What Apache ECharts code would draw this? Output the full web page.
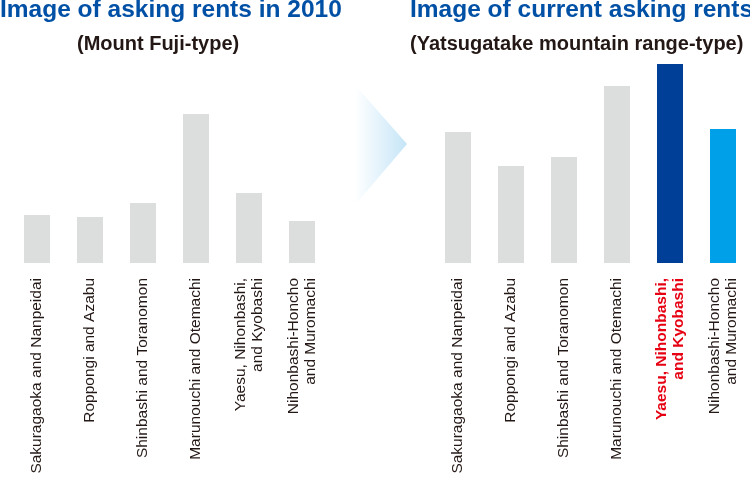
<!DOCTYPE html>
<html lang="en" style="height: 100%">
<head>
    <meta charset="utf-8">
</head>
<body style="height: 100%; margin: 0; background: #fff">
<div id="main" style="width: 750px; height: 485px"></div>

<script type="text/javascript" src="https://fastly.jsdelivr.net/npm/echarts@6/dist/echarts.min.js"></script>

<script type="text/javascript">
    var districts = [
        'Sakuragaoka and Nanpeidai',
        'Roppongi and Azabu',
        'Shinbashi and Toranomon',
        'Marunouchi and Otemachi',
        'Yaesu, Nihonbashi,\nand Kyobashi',
        'Nihonbashi-Honcho\nand Muromachi'
    ];
    // relative rent level (image only, no units)
    var rents2010 = [48, 46, 60, 149, 70, 42];
    var rentsNow = [131, 97, 106, 177, 199, 134];
    var highlightIndex = 4;
    var nowColors = ['#dcdddd', '#dcdddd', '#dcdddd', '#dcdddd', '#003f98', '#00a0e9'];

    var chartDom = document.getElementById('main');
    var myChart = echarts.init(chartDom);
    var option;

    var FONT = 'Liberation Sans, Arial, sans-serif';
    var LABEL_SIZE = 15.5;
    var LABEL_LH = 17;

    function xAxisFor(gridIndex, highlight) {
        return {
            type: 'category',
            gridIndex: gridIndex,
            data: districts,
            axisLine: { show: false },
            axisTick: { show: false },
            axisLabel: {
                interval: 0,
                rotate: 90,
                margin: 15,
                fontFamily: FONT,
                fontSize: LABEL_SIZE,
                lineHeight: LABEL_LH,
                color: '#231815',
                formatter: function (value, index) {
                    if (index !== highlight) return value;
                    return '{hl|' + value.split('\n').join('}\n{hl|') + '}';
                },
                rich: {
                    hl: {
                        color: '#e60012', fontWeight: 'bold', fontFamily: FONT,
                        fontSize: LABEL_SIZE, lineHeight: LABEL_LH
                    }
                }
            }
        };
    }

    function yAxisFor(gridIndex) {
        return {
            type: 'value',
            gridIndex: gridIndex,
            min: 0,
            max: 200,
            show: false,
            splitLine: { show: false }
        };
    }

    var titleStyle = { color: '#0050a5', fontSize: 24.5, fontWeight: 'bold', fontFamily: FONT };
    var subStyle = { color: '#231815', fontSize: 20, fontWeight: 'bold', fontFamily: FONT };

    option = {
        animation: false,
        title: [
            { text: 'Image of asking rents in 2010', left: 0, top: -2, padding: 0, textStyle: titleStyle },
            { text: '(Mount Fuji-type)', left: 77, top: 34, padding: 0, textStyle: subStyle },
            { text: 'Image of current asking rents', left: 410, top: -2, padding: 0, textStyle: titleStyle },
            { text: '(Yatsugatake mountain range-type)', left: 410, top: 34, padding: 0, textStyle: subStyle }
        ],
        graphic: [
            {
                type: 'polygon',
                shape: { points: [[355, 85], [407, 144], [355, 205]] },
                style: {
                    fill: new echarts.graphic.LinearGradient(0, 0, 1, 0, [
                        { offset: 0, color: 'rgba(255,255,255,1)' },
                        { offset: 1, color: '#c5e5f7' }
                    ])
                },
                silent: true
            }
        ],
        grid: [
            { left: 10.5, width: 318, top: 63, bottom: 222, containLabel: false },
            { left: 431.5, width: 318, top: 63, bottom: 222, containLabel: false }
        ],
        xAxis: [xAxisFor(0, -1), xAxisFor(1, highlightIndex)],
        yAxis: [yAxisFor(0), yAxisFor(1)],
        series: [
            {
                type: 'bar',
                xAxisIndex: 0,
                yAxisIndex: 0,
                barWidth: 26,
                itemStyle: { color: '#dcdddd' },
                data: rents2010
            },
            {
                type: 'bar',
                xAxisIndex: 1,
                yAxisIndex: 1,
                barWidth: 26,
                data: rentsNow.map(function (v, i) {
                    return { value: v, itemStyle: { color: nowColors[i] } };
                })
            }
        ]
    };

    option && myChart.setOption(option);
</script>
</body>
</html>
